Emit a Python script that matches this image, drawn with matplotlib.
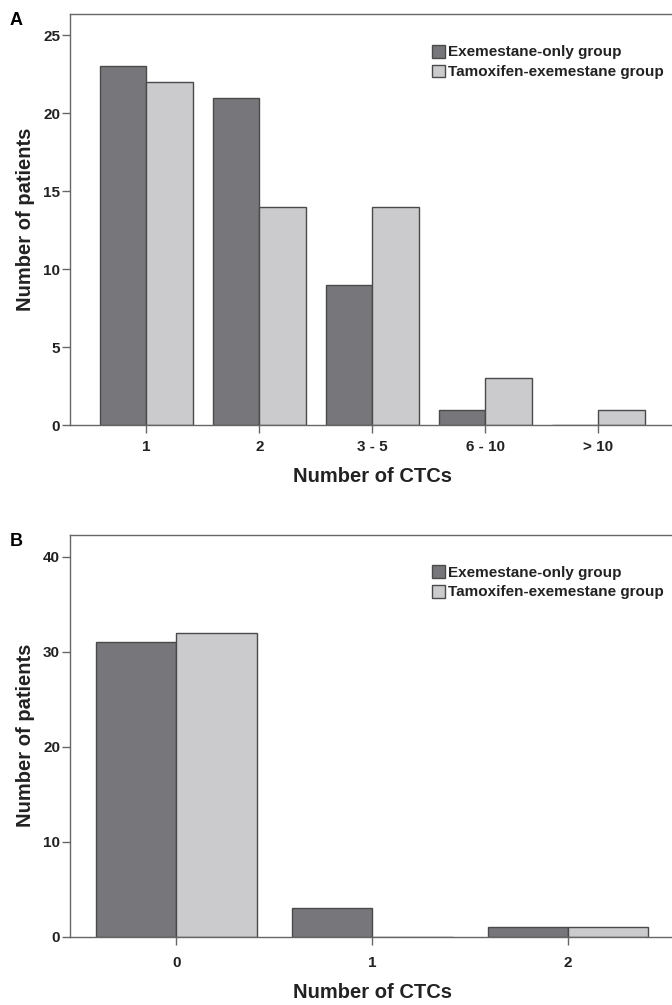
import matplotlib.pyplot as plt
import numpy as np

plt.rcParams['font.family'] = ['Liberation Sans', 'DejaVu Sans']
plt.rcParams['font.weight'] = 'bold'

# panel A data
cats_a = ["1", "2", "3 - 5", "6 - 10", "> 10"]
exe_a = [23, 21, 9, 1, 0]
tam_a = [22, 14, 14, 3, 1]

# panel B data
cats_b = ["0", "1", "2"]
exe_b = [31, 3, 1]
tam_b = [32, 0, 1]

labels = ["Exemestane-only group", "Tamoxifen-exemestane group"]
dark = "#77777b"
light = "#cbcbcd"
edge = "#4a4a4a"
txt = "#222222"
spine = "#666666"


def draw(ax, cats, exe, tam, yticks, ylim, xlim, letter, xpad):
    x = np.arange(len(cats))
    w = 0.41
    ax.bar(x - w/2, exe, w, color=dark, edgecolor=edge, linewidth=1.0, label=labels[0])
    ax.bar(x + w/2, tam, w, color=light, edgecolor=edge, linewidth=1.0, label=labels[1])
    ax.set_xlim(*xlim)
    ax.set_ylim(*ylim)
    ax.set_xticks(x)
    ax.set_xticklabels(cats)
    ax.set_yticks(yticks)
    for s in ax.spines.values():
        s.set_color(spine)
        s.set_linewidth(1.0)
    ax.tick_params(axis='both', colors=spine, labelcolor=txt, labelsize=11, length=6, width=1.0)
    ax.tick_params(axis='x', pad=xpad)
    ax.tick_params(axis='y', pad=1)
    ax.set_ylabel("Number of patients", fontsize=14.5, fontweight='bold', color=txt, labelpad=6)
    ax.set_xlabel("Number of CTCs", fontsize=14.5, fontweight='bold', color=txt, labelpad=9)
    ax.legend(loc='upper left', bbox_to_anchor=(0.588, 0.94), frameon=False, fontsize=11,
              handlelength=0.9, handleheight=0.9, handletextpad=0.15, labelspacing=0.35,
              borderaxespad=0, labelcolor=txt)
    ax.text(-0.1, 1.005, letter, transform=ax.transAxes, fontsize=13, fontweight='heavy',
            color='black', va='top', ha='left')


fig = plt.figure(figsize=(6.72, 10.05), dpi=100)
ax1 = fig.add_axes([0.104, 0.577, 0.9, 0.409])
ax2 = fig.add_axes([0.104, 0.068, 0.9, 0.4])

draw(ax1, cats_a, exe_a, tam_a, [0, 5, 10, 15, 20, 25], (0, 26.35), (-0.676, 4.676), "A", 5)
draw(ax2, cats_b, exe_b, tam_b, [0, 10, 20, 30, 40], (0, 42.3), (-0.544, 2.544), "B", 8)

fig.savefig("out.png", dpi=100)
